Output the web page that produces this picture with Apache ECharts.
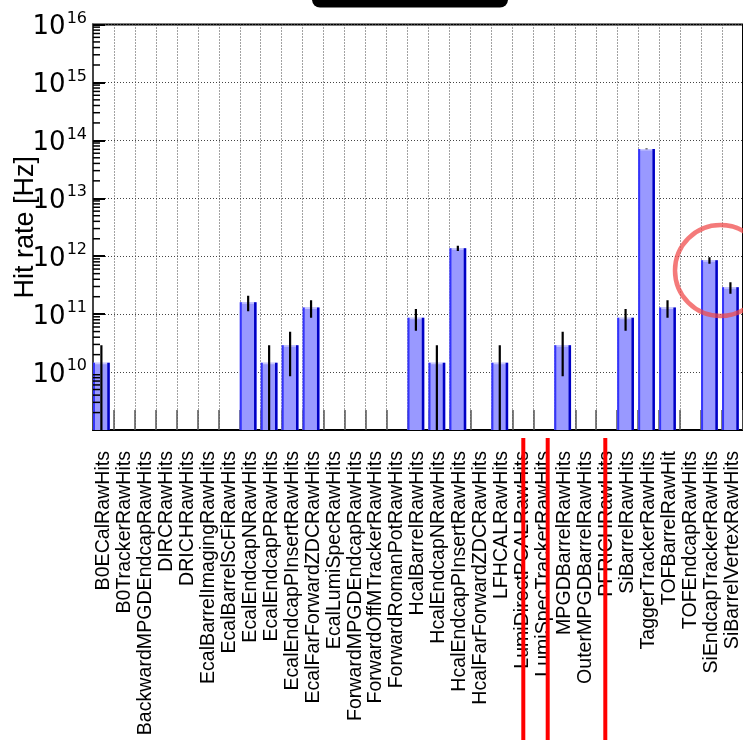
<!DOCTYPE html>
<html>
<head>
<meta charset="utf-8">
<script src="https://cdn.jsdelivr.net/npm/echarts@6/dist/echarts.min.js"></script>
<style>
  html, body { margin: 0; padding: 0; background: #fff; }
  #chart { width: 743px; height: 740px; }
</style>
</head>
<body>
<div id="chart"></div>
<script>
// Collection names (one bin each)
const categories = [
  'B0ECalRawHits', 'B0TrackerRawHits', 'BackwardMPGDEndcapRawHits', 'DIRCRawHits',
  'DRICHRawHits', 'EcalBarrelImagingRawHits', 'EcalBarrelScFiRawHits', 'EcalEndcapNRawHits',
  'EcalEndcapPRawHits', 'EcalEndcapPInsertRawHits', 'EcalFarForwardZDCRawHits', 'EcalLumiSpecRawHits',
  'ForwardMPGDEndcapRawHits', 'ForwardOffMTrackerRawHits', 'ForwardRomanPotRawHits', 'HcalBarrelRawHits',
  'HcalEndcapNRawHits', 'HcalEndcapPInsertRawHits', 'HcalFarForwardZDCRawHits', 'LFHCALRawHits',
  'LumiDirectPCALRawHits', 'LumiSpecTrackerRawHits', 'MPGDBarrelRawHits', 'OuterMPGDBarrelRawHits',
  'PFRICHRawHits', 'SiBarrelRawHits', 'TaggerTrackerRawHits', 'TOFBarrelRawHit',
  'TOFEndcapRawHits', 'SiEndcapTrackerRawHits', 'SiBarrelVertexRawHits'
];

// Hit rate per collection [Hz]
const hitRates = [
  1.45e10, 0, 0, 0,
  0, 0, 0, 1.6e11,
  1.45e10, 2.9e10, 1.3e11, 0,
  0, 0, 0, 8.7e10,
  1.45e10, 1.37e12, 0, 1.45e10,
  0, 0, 2.9e10, 0,
  0, 8.7e10, 7.1e13, 1.3e11,
  0, 8.5e11, 2.9e11
];

// Statistical uncertainty on each rate [Hz]
const hitRateErrors = [
  1.45e10, 0, 0, 0,
  0, 0, 0, 4.8e10,
  1.45e10, 2.05e10, 4.35e10, 0,
  0, 0, 0, 3.55e10,
  1.45e10, 1.4e11, 0, 1.45e10,
  0, 0, 2.05e10, 0,
  0, 3.55e10, 1.0e12, 4.35e10,
  0, 1.1e11, 6.5e10
];

// Y axis range (decades)
const Y_MIN = 1e9;
const Y_MAX = 1e16;

const FONT = '"Liberation Sans", Arial, Helvetica, sans-serif';
const TICK_FONT = '"DejaVu Sans", "Liberation Sans", sans-serif';

const chart = echarts.init(document.getElementById('chart'), null, { renderer: 'canvas' });

const rateData = [];
categories.forEach((name, i) => {
  if (hitRates[i] > 0) rateData.push([i, hitRates[i], hitRateErrors[i]]);
});

// Minor log ticks (2..9 within each decade)
const minorTickData = [];
for (let d = Math.log10(Y_MIN); d < Math.log10(Y_MAX); d++) {
  for (let m = 2; m <= 9; m++) minorTickData.push([0, m * Math.pow(10, d)]);
}

// Bars sit on the left 80% of each bin, with a light top/left and dark right edge
function renderBar(params, api) {
  const i = api.value(0);
  const v = api.value(1);
  const w = api.size([1, 0])[0];
  const top = api.coord([i, v]);
  const base = api.coord([i, Y_MIN]);
  const x0 = top[0] - w / 2;
  const bw = w * 0.8;
  const h = base[1] - top[1];
  return {
    type: 'group',
    children: [
      { type: 'rect', shape: { x: x0, y: top[1], width: bw, height: h }, style: { fill: '#9999ff' } },
      { type: 'rect', shape: { x: x0 + 2, y: top[1], width: bw - 4.5, height: 1.5 }, style: { fill: '#c8c8ff' } },
      { type: 'rect', shape: { x: x0, y: top[1], width: 2, height: h }, style: { fill: '#3434fa' } },
      { type: 'rect', shape: { x: x0 + bw - 2.5, y: top[1], width: 2.5, height: h }, style: { fill: '#0000c4' } }
    ]
  };
}

function renderError(params, api) {
  const i = api.value(0);
  const v = api.value(1);
  const e = api.value(2);
  const w = api.size([1, 0])[0];
  const hi = api.coord([i, Math.min(v + e, Y_MAX)]);
  const lo = api.coord([i, Math.max(v - e, Y_MIN)]);
  const x = hi[0] - w / 2 + w * 0.4;
  return {
    type: 'line',
    shape: { x1: x, y1: hi[1], x2: x, y2: lo[1] },
    style: { stroke: '#000', lineWidth: 2.2 }
  };
}

function renderMinorTick(params, api) {
  const y = api.coord([0, api.value(1)])[1];
  const x = params.coordSys.x;
  return {
    type: 'line',
    shape: { x1: x, y1: y, x2: x + 7, y2: y },
    style: { stroke: '#000', lineWidth: 1.5 }
  };
}

chart.setOption({
  animation: false,
  backgroundColor: '#fff',
  grid: {
    left: 93, top: 24.5, right: 0, bottom: 310,
    containLabel: false,
    outerBoundsMode: 'none',
    show: true, borderColor: '#000', borderWidth: 2, backgroundColor: 'transparent'
  },
  xAxis: {
    type: 'category',
    data: categories,
    boundaryGap: true,
    axisLine: { lineStyle: { color: '#000', width: 2 } },
    axisTick: { show: true, interval: 0, inside: true, length: 20, lineStyle: { color: '#555', width: 1.5 } },
    axisLabel: {
      interval: 0, rotate: 90, margin: 21,
      fontSize: 19.6, fontFamily: FONT, color: '#000'
    },
    splitLine: { show: true, interval: 0, lineStyle: { type: [1, 2], color: '#444', width: 1 } }
  },
  yAxis: {
    type: 'log',
    logBase: 10,
    min: Y_MIN,
    max: Y_MAX,
    interval: 1,
    axisLine: { show: true, lineStyle: { color: '#444', width: 2 } },
    axisTick: { show: true, inside: true, length: 12, lineStyle: { color: '#000', width: 2 } },
    minorTick: { show: false },
    splitLine: { show: true, lineStyle: { type: [1, 2], color: '#444', width: 1 } },
    axisLabel: {
      margin: 6,
      formatter: function (v) {
        const e = Math.round(Math.log10(v));
        if (e <= 9) return '';
        return '{b|10}{s|' + e + '}';
      },
      rich: {
        b: { fontSize: 26, fontFamily: TICK_FONT, color: '#000', padding: [6, 0, 0, 0] },
        s: { fontSize: 16, fontFamily: TICK_FONT, color: '#000', padding: [0, 0, 12, 1] }
      }
    },
    name: 'Hit rate [Hz]',
    nameLocation: 'middle',
    nameGap: 54,
    nameMoveOverlap: false,
    nameTextStyle: { fontSize: 27, fontFamily: FONT, color: '#000' }
  },
  series: [
    {
      type: 'custom',
      name: 'rate',
      data: rateData,
      renderItem: renderBar,
      clip: true,
      encode: { x: 0, y: 1 }
    },
    {
      type: 'custom',
      name: 'error',
      data: rateData,
      renderItem: renderError,
      clip: true,
      encode: { x: 0, y: 1 },
      z: 3
    },
    {
      type: 'custom',
      name: 'minorTicks',
      data: minorTickData,
      renderItem: renderMinorTick,
      silent: true,
      encode: { x: 0, y: 1 },
      z: 4
    }
  ],
  graphic: [
    {
      type: 'rect', left: 312, top: -12,
      shape: { width: 196, height: 19.5, r: 8 },
      style: { fill: '#000' }, z: 100
    },
    {
      type: 'line', shape: { x1: 523.3, y1: 438, x2: 523.3, y2: 740 },
      style: { stroke: '#ff0000', lineWidth: 4 }, z: 100
    },
    {
      type: 'line', shape: { x1: 547.7, y1: 438, x2: 547.7, y2: 740 },
      style: { stroke: '#ff0000', lineWidth: 4 }, z: 100
    },
    {
      type: 'line', shape: { x1: 605.3, y1: 438, x2: 605.3, y2: 740 },
      style: { stroke: '#ff0000', lineWidth: 4 }, z: 100
    },
    {
      type: 'circle', shape: { cx: 720.5, cy: 270.5, r: 45.5 },
      style: { fill: 'none', stroke: 'rgba(240, 70, 70, 0.72)', lineWidth: 4.5 }, z: 100
    }
  ]
});
</script>
</body>
</html>
